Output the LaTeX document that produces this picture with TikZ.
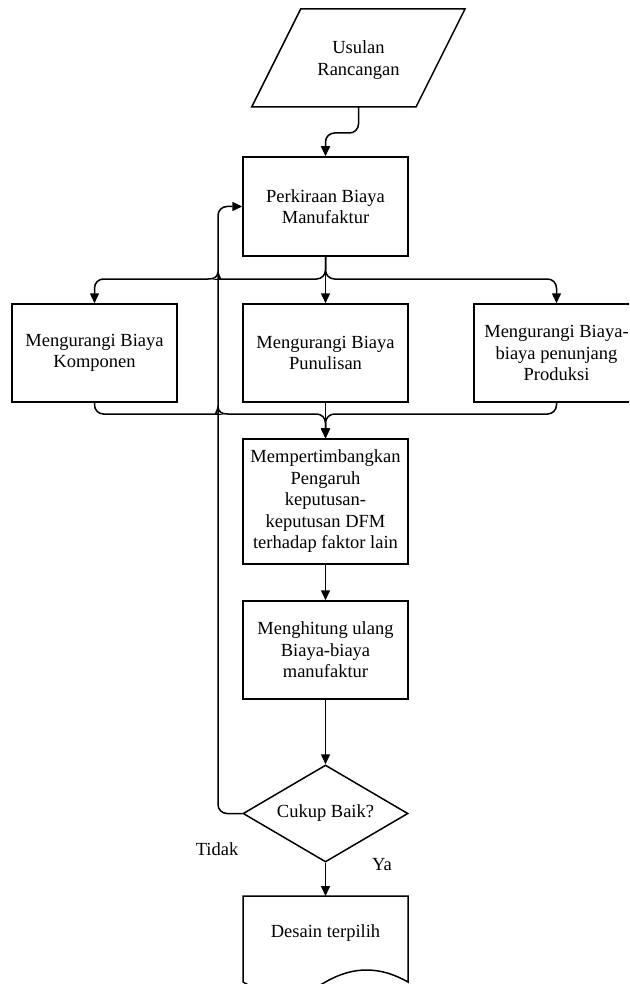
\documentclass[tikz,border=0pt]{standalone}
\usepackage{fontspec}
\setmainfont{Liberation Serif}
\usetikzlibrary{arrows.meta,shapes.geometric}
\begin{document}
\begin{tikzpicture}[x=1pt,y=-1pt,
  every node/.style={font=\fontsize{18.5}{21.5}\selectfont},
  line/.style={line width=1.5pt},
  arr/.style={line width=1.5pt,-{Triangle[length=10pt,width=9pt]}},
  box/.style={draw,line width=1.5pt,minimum width=165pt,align=center,inner sep=0pt},
  decision/.style={draw,line width=1.5pt,diamond,aspect=1.7,minimum width=165pt,minimum height=97pt,inner sep=0pt},
  lbl/.style={inner sep=0pt}]
\useasboundingbox (0,0) rectangle (629,984);
\fill[white] (0,0) rectangle (629,984);
\clip (0,0) rectangle (629,984);

% input parallelogram
\draw[line,line join=miter] (300.7,9) -- (465,9) -- (416,107) -- (251.7,107) -- cycle;
\node[lbl,align=center] (usulan) at (358.5,60) {Usulan\\Rancangan};
\coordinate (ubot) at (358.5,107);

\node[box,minimum height=99pt] (perk) at (325.5,206.5) {Perkiraan Biaya\\Manufaktur};
\node[box,minimum height=98pt] (komp) at (94.5,353) {Mengurangi Biaya\\Komponen};
\node[box,minimum height=98pt] (punu) at (325.5,353) {Mengurangi Biaya\\Punulisan};
\node[box,minimum height=98pt] (prod) at (556.5,353) {Mengurangi Biaya-\\biaya penunjang\\Produksi};
\node[box,minimum height=125pt] (pert) at (325.5,501.5) {Mempertimbangkan\\Pengaruh\\keputusan-\\keputusan DFM\\terhadap faktor lain};
\node[box,minimum height=98pt] (hitung) at (325.5,650) {Menghitung ulang\\Biaya-biaya\\manufaktur};
\node[decision] (dec) at (325.5,813.5) {Cukup Baik?};

% document shape
\draw[line,line join=miter] (243,896) -- (408,896) -- (408,982)
  .. controls (380,966) and (353,966) .. (325.5,982)
  .. controls (298,998) and (270,998) .. (243,982) -- cycle;
\node[lbl] (desain) at (325.5,933) {Desain terpilih};

\node[lbl] (tidak) at (217,849) {Tidak};
\node[lbl] (ya) at (382,865) {Ya};

% connectors
\draw[arr,rounded corners=9pt] (ubot) -- (358.5,133) -- (325.5,133) -- (perk.north);

\draw[arr] (perk.south) -- (punu.north);
\draw[arr] (perk.south) [rounded corners=9pt] -- (325.5,279) -- (228,279) [sharp corners]
  .. controls (222,279) and (219,277.5) .. (218,272.5)
  .. controls (217,277.5) and (214,279) .. (208,279)
  [rounded corners=9pt] -- (94.5,279) -- (komp.north);
\draw[arr,rounded corners=9pt] (perk.south) -- (325.5,279) -- (556.5,279) -- (prod.north);

\draw[arr] (punu.south) -- (pert.north);
\draw[arr] (komp.south) [rounded corners=9pt] -- (94.5,414) -- (208,414) [sharp corners]
  .. controls (214,414) and (217,412.5) .. (218,407.5)
  .. controls (219,412.5) and (222,414) .. (228,414)
  [rounded corners=9pt] -- (325.5,414) -- (pert.north);
\draw[arr,rounded corners=9pt] (prod.south) -- (556.5,414) -- (325.5,414) -- (pert.north);

\draw[arr] (pert.south) -- (hitung.north);
\draw[arr] (hitung.south) -- (dec.north);
\draw[arr] (dec.south) -- (325.5,896);
\draw[arr,rounded corners=9pt] (dec.west) -- (218,813.5) -- (218,206.5) -- (perk.west);
\end{tikzpicture}
\end{document}
